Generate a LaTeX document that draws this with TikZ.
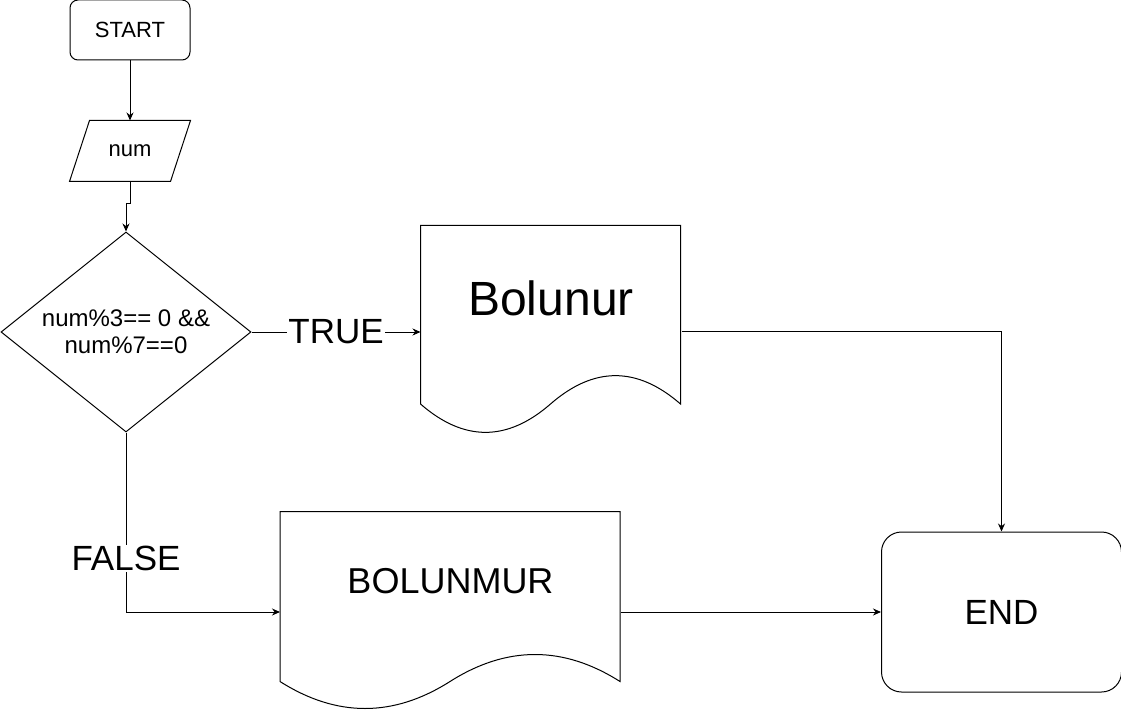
\documentclass[tikz,border=0pt]{standalone}
\usepackage{fontspec}
\setmainfont{Liberation Sans}
\usetikzlibrary{arrows.meta, positioning, shapes.geometric}

\begin{document}
\begin{tikzpicture}[x=1pt, y=-1pt, line width=1pt, ->,
        >={Stealth[length=8pt, width=7pt]},
          box/.style = {draw, rounded corners=#1, inner sep=0pt},
           io/.style = {minimum width=120pt, minimum height=60pt,
                        inner sep=0pt, font=\fontsize{22}{26}\selectfont},
         test/.style = {draw, diamond, aspect=1.25,
                        minimum width=250pt, minimum height=200pt,
                        inner sep=0pt, align=center,
                        font=\fontsize{24}{27}\selectfont},
          doc/.style = {inner sep=0pt, text depth=#1},
          lbl/.style = {fill=white, inner sep=1pt,
                        font=\fontsize{35}{42}\selectfont}
                        ]
\useasboundingbox (0,0) rectangle (1121,711);
% Draw the start, input and decision nodes
    \node[box=8pt, minimum width=120pt, minimum height=60pt,
          font=\fontsize{22}{26}\selectfont] (start) at (130,30) {START};
    \node[io, below=60pt of start]                 (num)  {num};
    \node[test, below=50pt of num, xshift=-4pt]    (cond) {num\%3== 0 \&\&\\num\%7==0};
% Draw the output documents and the end node
    \node[doc=66pt, minimum width=260pt, minimum height=210pt,
          font=\fontsize{48}{56}\selectfont,
          right=169pt of cond, yshift=1pt]         (yes)  {Bolunur};
    \node[doc=62pt, minimum width=340pt, minimum height=200pt,
          font=\fontsize{36}{43}\selectfont,
          below right=79pt and 154pt of cond.south] (no)  {BOLUNMUR};
    \node[box=20pt, minimum width=240pt, minimum height=160pt,
          font=\fontsize{35}{42}\selectfont,
          right=260pt of no]                       (end)  {END};
% Input parallelogram
    \draw[-] ([xshift=20pt]num.north west) -- (num.north east)
          -- ([xshift=-20pt]num.south east) -- (num.south west) -- cycle;
% Document outlines with the wavy bottom
\foreach \d/\w/\h in {yes/260/210, no/340/200}
    \draw[-, shift={(\d.north west)}, x=\w pt, y=-\h pt]
        (0,0) -- (1,0) -- (1,.85)
        .. controls (.8333,.67) and (.6667,.67) .. (.5,.85)
        .. controls (.3333,1.03) and (.1667,1.03) .. (0,.85) -- cycle;
% Connect the nodes
    \draw (start) -- (num);
    \draw (num.south) -- ++(0,22) -| (cond.north);
    \draw (cond) -- node[lbl] {TRUE} (cond -| yes.west);
    \draw (cond.south) |- node[lbl, pos=0.35] {FALSE} (no.west);
    \draw (yes.east) -| (end.north);
    \draw (no) -- (end);
\end{tikzpicture}
\end{document}
